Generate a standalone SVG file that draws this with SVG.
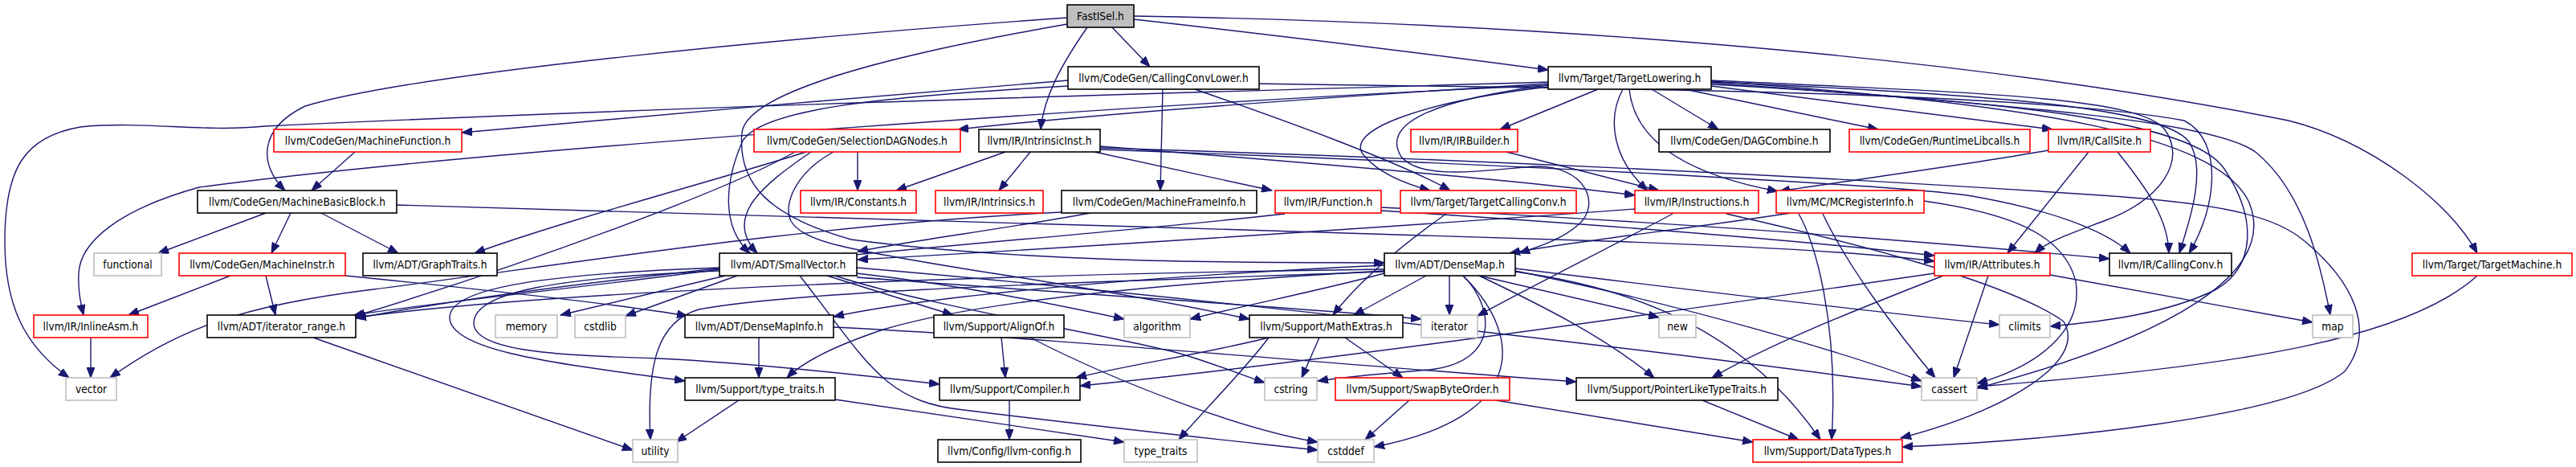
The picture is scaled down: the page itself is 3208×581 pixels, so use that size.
<svg xmlns="http://www.w3.org/2000/svg" width="3208" height="581" viewBox="0 0 3208 581">
<style>
rect{fill:#fff;stroke-width:1.6}
.r{stroke:#ff0000}.b{stroke:#000}.g{stroke:#bfbfbf}.f{fill:#bfbfbf;stroke:#000}
text{font-family:"DejaVu Sans Condensed","Liberation Sans",sans-serif;font-size:13.7px;fill:#000;text-anchor:middle}
#edges path{fill:none;stroke:#191970;stroke-width:1.4;marker-end:url(#ah)}
</style>
<defs><marker id="ah" markerUnits="userSpaceOnUse" markerWidth="14" markerHeight="10" refX="13" refY="5" orient="auto"><path d="M0,0 L13,5 L0,10 z" fill="#191970" stroke="#191970"/></marker></defs>
<rect x="0" y="0" width="3208" height="581" style="fill:#fff;stroke:none"/>
<g id="edges">
<path d="M1385,34 L1432,83"/>
<path d="M1412,24 C1600,45 1800,70 1928,87"/>
<path d="M1330,100 C1100,118 800,145 575,165"/>
<path d="M1928,104 C1700,118 1400,138 1193,161"/>
<path d="M1354,34 C1322,80 1300,120 1296,161"/>
<path d="M1990,111 L1868,161"/>
<path d="M2057,111 L2140,161"/>
<path d="M2098,111 L2339,161"/>
<path d="M2131,107 L2556,161"/>
<path d="M1329,22 C1000,45 520,90 380,132 C322,160 322,205 355,237"/>
<path d="M442,189 L388,237"/>
<path d="M1068,189 L1068,237"/>
<path d="M1252,189 L1116,237"/>
<path d="M1283,189 L1244,237"/>
<path d="M1448,111 L1445,237"/>
<path d="M1363,189 L1584,237"/>
<path d="M1488,111 C1600,150 1740,200 1806,237"/>
<path d="M1928,108 C1760,128 1670,165 1700,195 C1720,218 1755,230 1781,237"/>
<path d="M2021,111 C2000,150 2010,200 2052,237"/>
<path d="M1876,189 L2066,237"/>
<path d="M1370,182 C1600,200 1900,225 2036,243"/>
<path d="M2029,111 C2035,170 2090,215 2214,238"/>
<path d="M2551,187 C2450,205 2320,222 2216,238"/>
<path d="M331,265 L197,315"/>
<path d="M362,265 L338,315"/>
<path d="M400,265 L496,315"/>
<path d="M1004,189 C900,222 700,275 591,315"/>
<path d="M1329,30 C1100,70 930,115 924,165 C918,230 960,270 1060,298 C1300,330 1600,326 1724,327"/>
<path d="M1330,107 C1100,120 950,135 925,175 C905,220 895,280 934,315"/>
<path d="M1010,189 C950,230 900,270 943,315"/>
<path d="M1358,265 C1250,285 1130,300 1068,313"/>
<path d="M2036,260 C1700,285 1300,310 1068,323"/>
<path d="M1928,106 C1780,125 1720,155 1745,195 C1770,225 1850,212 1910,207 C1975,205 1995,255 1965,280 C1945,298 1915,307 1892,315"/>
<path d="M2230,265 C2100,285 1960,300 1880,315"/>
<path d="M1720,262 C2000,280 2250,300 2409,318"/>
<path d="M494,255 C900,265 1500,285 2000,300 C2200,307 2330,315 2409,325"/>
<path d="M2601,189 L2500,315"/>
<path d="M2131,100 C2450,115 2660,120 2695,160 C2725,200 2690,250 2620,275 C2580,290 2550,300 2534,315"/>
<path d="M1720,258 C2100,278 2400,300 2627,322"/>
<path d="M1370,186 C1900,205 2350,230 2450,243 C2550,260 2620,285 2653,315"/>
<path d="M2637,189 C2670,230 2700,270 2701,315"/>
<path d="M2131,102 C2500,118 2690,135 2725,175 C2750,210 2725,280 2714,315"/>
<path d="M1568,104 C1900,110 2500,110 2720,150 C2770,175 2760,260 2726,315"/>
<path d="M1412,20 C2000,30 2500,80 2850,150 C2950,175 3050,250 3085,315"/>
<path d="M287,343 L160,392"/>
<path d="M1928,106 C1500,125 600,185 248,233 C150,260 100,300 98,340 C97,360 100,375 104,392"/>
<path d="M331,343 L343,392"/>
<path d="M896,335 C750,355 550,375 441,392"/>
<path d="M990,189 C900,240 650,330 440,394"/>
<path d="M1724,335 C1300,340 700,360 443,395"/>
<path d="M1600,266 C1300,300 800,330 443,396"/>
<path d="M903,343 L698,392"/>
<path d="M918,343 L779,393"/>
<path d="M430,343 C600,360 780,380 856,393"/>
<path d="M1724,330 C1400,345 1150,370 1038,394"/>
<path d="M1030,343 L1187,392"/>
<path d="M1067,340 C1200,355 1320,380 1400,397"/>
<path d="M1724,340 C1650,360 1550,380 1482,397"/>
<path d="M1038,189 C990,215 975,255 985,275 C1000,300 1050,310 1217,337 C1400,365 1500,385 1556,397"/>
<path d="M1801,266 C1760,295 1700,340 1660,392"/>
<path d="M1776,343 L1686,392"/>
<path d="M1805,343 L1805,392"/>
<path d="M1067,345 C1400,370 1650,385 1770,397"/>
<path d="M2083,266 C2000,310 1900,360 1840,393"/>
<path d="M1842,343 L2066,395"/>
<path d="M2131,105 C2500,125 2730,150 2770,210 C2810,270 2810,330 2760,360 C2700,390 2620,400 2553,406"/>
<path d="M1887,334 C2100,360 2350,390 2490,404"/>
<path d="M2131,103 C2500,130 2760,150 2810,190 C2870,240 2890,330 2902,392"/>
<path d="M2553,342 L2880,401"/>
<path d="M113,420 L113,470"/>
<path d="M1928,102 C1500,115 900,130 330,157 C250,165 180,150 100,158 C30,170 6,210 6,300 C6,380 30,430 86,470"/>
<path d="M1322,264 C1000,280 700,330 465,360 C300,380 220,410 137,470"/>
<path d="M945,420 L945,470"/>
<path d="M1724,337 C1400,355 1200,380 1100,410 C1040,430 1000,450 980,470"/>
<path d="M896,333 C700,340 560,355 560,395 C560,440 720,455 853,474"/>
<path d="M1247,420 L1252,470"/>
<path d="M896,337 C700,345 590,362 590,402 C590,438 700,442 820,446 C950,452 1100,470 1170,478"/>
<path d="M1580,420 C1500,440 1400,455 1340,470"/>
<path d="M2409,340 C2000,400 1600,455 1345,480"/>
<path d="M1643,420 L1621,470"/>
<path d="M1822,343 C1860,380 1870,450 1780,460 C1720,465 1680,468 1641,474"/>
<path d="M1040,343 C1150,380 1400,420 1470,440 C1520,455 1550,468 1575,476"/>
<path d="M1675,420 L1747,470"/>
<path d="M1842,343 C1920,380 2000,420 2060,470"/>
<path d="M2420,343 C2300,390 2200,430 2132,470"/>
<path d="M1038,407 C1300,420 1600,448 1963,475"/>
<path d="M2476,343 L2433,470"/>
<path d="M1887,337 C2100,380 2300,440 2393,474"/>
<path d="M1067,333 C1500,370 2100,440 2393,481"/>
<path d="M2270,266 C2300,330 2360,410 2410,470"/>
<path d="M3085,343 C3000,420 2800,455 2462,481"/>
<path d="M2396,250 C2500,265 2570,290 2585,350 C2595,410 2540,455 2462,477"/>
<path d="M2131,101 C2550,130 2760,170 2800,250 C2840,340 2700,420 2462,483"/>
<path d="M390,420 L788,560"/>
<path d="M920,498 L842,550"/>
<path d="M1724,338 C1400,350 1000,360 870,385 C820,400 805,450 810,547"/>
<path d="M1257,498 L1257,547"/>
<path d="M1040,497 L1400,550"/>
<path d="M1580,420 C1550,460 1500,510 1468,547"/>
<path d="M1755,498 L1700,547"/>
<path d="M1822,343 C1900,420 1900,520 1711,556"/>
<path d="M1283,420 C1400,480 1550,535 1641,550"/>
<path d="M996,343 C1080,450 1100,500 1200,510 C1400,535 1550,550 1641,560"/>
<path d="M2120,498 L2240,547"/>
<path d="M1863,498 L2183,550"/>
<path d="M1887,338 C2050,360 2180,420 2267,547"/>
<path d="M2240,266 C2260,300 2290,400 2281,547"/>
<path d="M2150,266 C2300,300 2500,350 2570,400 C2600,450 2500,510 2367,545"/>
<path d="M1370,184 C1900,200 2350,225 2617,243 C2750,252 2830,265 2870,300 C2930,350 2960,410 2920,462 C2850,520 2550,548 2369,556"/>
</g>
<g id="n1"><rect class="f" x="1329" y="6" width="83" height="28"/><text x="1370.5" y="25">FastISel.h</text></g>
<g id="n2"><rect class="b" x="1330" y="83" width="238" height="28"/><text x="1449" y="102">llvm/CodeGen/CallingConvLower.h</text></g>
<g id="n3"><rect class="b" x="1928" y="83" width="203" height="28"/><text x="2029.5" y="102">llvm/Target/TargetLowering.h</text></g>
<g id="n4"><rect class="r" x="341" y="161" width="234" height="28"/><text x="458" y="180">llvm/CodeGen/MachineFunction.h</text></g>
<g id="n5"><rect class="r" x="939" y="161" width="257" height="28"/><text x="1067.5" y="180">llvm/CodeGen/SelectionDAGNodes.h</text></g>
<g id="n6"><rect class="b" x="1219" y="161" width="151" height="28"/><text x="1294.5" y="180">llvm/IR/IntrinsicInst.h</text></g>
<g id="n7"><rect class="r" x="1757" y="161" width="133" height="28"/><text x="1823.5" y="180">llvm/IR/IRBuilder.h</text></g>
<g id="n8"><rect class="b" x="2066" y="161" width="213" height="28"/><text x="2172.5" y="180">llvm/CodeGen/DAGCombine.h</text></g>
<g id="n9"><rect class="r" x="2303" y="161" width="225" height="28"/><text x="2415.5" y="180">llvm/CodeGen/RuntimeLibcalls.h</text></g>
<g id="n10"><rect class="r" x="2551" y="161" width="127" height="28"/><text x="2614.5" y="180">llvm/IR/CallSite.h</text></g>
<g id="n11"><rect class="b" x="246" y="237" width="248" height="28"/><text x="370" y="256">llvm/CodeGen/MachineBasicBlock.h</text></g>
<g id="n12"><rect class="r" x="997" y="237" width="144" height="28"/><text x="1069" y="256">llvm/IR/Constants.h</text></g>
<g id="n13"><rect class="r" x="1165" y="237" width="134" height="28"/><text x="1232" y="256">llvm/IR/Intrinsics.h</text></g>
<g id="n14"><rect class="b" x="1322" y="237" width="243" height="28"/><text x="1443.5" y="256">llvm/CodeGen/MachineFrameInfo.h</text></g>
<g id="n15"><rect class="r" x="1588" y="237" width="132" height="28"/><text x="1654" y="256">llvm/IR/Function.h</text></g>
<g id="n16"><rect class="r" x="1744" y="237" width="219" height="28"/><text x="1853.5" y="256">llvm/Target/TargetCallingConv.h</text></g>
<g id="n17"><rect class="r" x="2036" y="237" width="154" height="28"/><text x="2113" y="256">llvm/IR/Instructions.h</text></g>
<g id="n18"><rect class="r" x="2212" y="237" width="184" height="28"/><text x="2304" y="256">llvm/MC/MCRegisterInfo.h</text></g>
<g id="n19"><rect class="g" x="117" y="315" width="84" height="28"/><text x="159" y="334">functional</text></g>
<g id="n20"><rect class="r" x="223" y="315" width="207" height="28"/><text x="326.5" y="334">llvm/CodeGen/MachineInstr.h</text></g>
<g id="n21"><rect class="b" x="452" y="315" width="167" height="28"/><text x="535.5" y="334">llvm/ADT/GraphTraits.h</text></g>
<g id="n22"><rect class="b" x="896" y="315" width="171" height="28"/><text x="981.5" y="334">llvm/ADT/SmallVector.h</text></g>
<g id="n23"><rect class="b" x="1724" y="315" width="163" height="28"/><text x="1805.5" y="334">llvm/ADT/DenseMap.h</text></g>
<g id="n24"><rect class="r" x="2409" y="315" width="144" height="28"/><text x="2481" y="334">llvm/IR/Attributes.h</text></g>
<g id="n25"><rect class="b" x="2627" y="315" width="152" height="28"/><text x="2703" y="334">llvm/IR/CallingConv.h</text></g>
<g id="n26"><rect class="r" x="3004" y="315" width="199" height="28"/><text x="3103.5" y="334">llvm/Target/TargetMachine.h</text></g>
<g id="n27"><rect class="r" x="42" y="392" width="142" height="28"/><text x="113" y="411">llvm/IR/InlineAsm.h</text></g>
<g id="n28"><rect class="b" x="258" y="392" width="185" height="28"/><text x="350.5" y="411">llvm/ADT/iterator_range.h</text></g>
<g id="n29"><rect class="g" x="617" y="392" width="77" height="28"/><text x="655.5" y="411">memory</text></g>
<g id="n30"><rect class="g" x="716" y="392" width="63" height="28"/><text x="747.5" y="411">cstdlib</text></g>
<g id="n31"><rect class="b" x="853" y="392" width="185" height="28"/><text x="945.5" y="411">llvm/ADT/DenseMapInfo.h</text></g>
<g id="n32"><rect class="b" x="1163" y="392" width="162" height="28"/><text x="1244" y="411">llvm/Support/AlignOf.h</text></g>
<g id="n33"><rect class="g" x="1400" y="392" width="82" height="28"/><text x="1441" y="411">algorithm</text></g>
<g id="n34"><rect class="b" x="1556" y="392" width="191" height="28"/><text x="1651.5" y="411">llvm/Support/MathExtras.h</text></g>
<g id="n35"><rect class="g" x="1770" y="392" width="70" height="28"/><text x="1805" y="411">iterator</text></g>
<g id="n36"><rect class="g" x="2066" y="392" width="46" height="28"/><text x="2089" y="411">new</text></g>
<g id="n37"><rect class="g" x="2490" y="392" width="63" height="28"/><text x="2521.5" y="411">climits</text></g>
<g id="n38"><rect class="g" x="2880" y="392" width="50" height="28"/><text x="2905" y="411">map</text></g>
<g id="n39"><rect class="g" x="82" y="470" width="63" height="28"/><text x="113.5" y="489">vector</text></g>
<g id="n40"><rect class="b" x="853" y="470" width="187" height="28"/><text x="946.5" y="489">llvm/Support/type_traits.h</text></g>
<g id="n41"><rect class="b" x="1170" y="470" width="175" height="28"/><text x="1257.5" y="489">llvm/Support/Compiler.h</text></g>
<g id="n42"><rect class="g" x="1575" y="470" width="65" height="28"/><text x="1607.5" y="489">cstring</text></g>
<g id="n43"><rect class="r" x="1663" y="470" width="217" height="28"/><text x="1771.5" y="489">llvm/Support/SwapByteOrder.h</text></g>
<g id="n44"><rect class="b" x="1963" y="470" width="251" height="28"/><text x="2088.5" y="489">llvm/Support/PointerLikeTypeTraits.h</text></g>
<g id="n45"><rect class="g" x="2393" y="470" width="69" height="28"/><text x="2427.5" y="489">cassert</text></g>
<g id="n46"><rect class="g" x="788" y="547" width="56" height="28"/><text x="816" y="566">utility</text></g>
<g id="n47"><rect class="b" x="1168" y="547" width="178" height="28"/><text x="1257" y="566">llvm/Config/llvm-config.h</text></g>
<g id="n48"><rect class="g" x="1400" y="547" width="91" height="28"/><text x="1445.5" y="566">type_traits</text></g>
<g id="n49"><rect class="g" x="1641" y="547" width="70" height="28"/><text x="1676" y="566">cstddef</text></g>
<g id="n50"><rect class="r" x="2183" y="547" width="186" height="28"/><text x="2276" y="566">llvm/Support/DataTypes.h</text></g>
</svg>
